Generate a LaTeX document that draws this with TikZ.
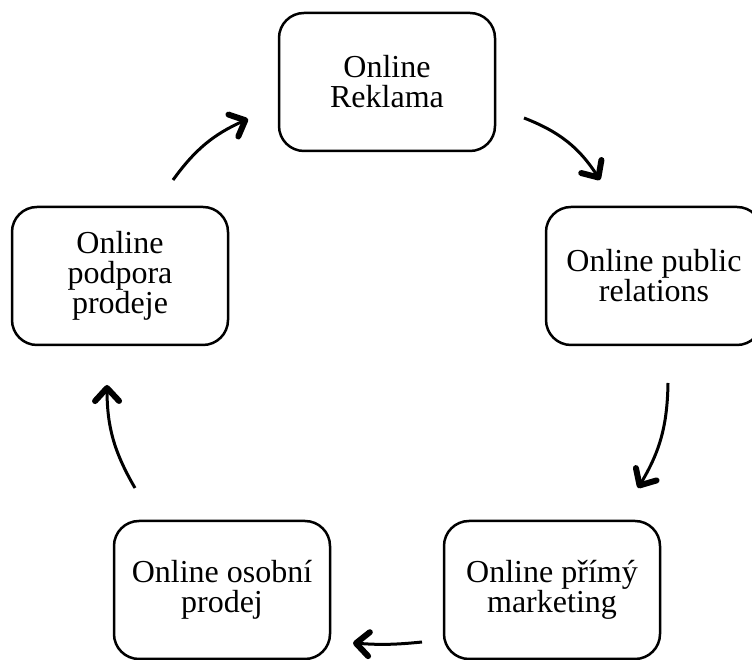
\documentclass[tikz,border=0pt]{standalone}
\usepackage{fontspec}
\setmainfont{Liberation Serif}
\usetikzlibrary{arrows.meta}
\begin{document}
\begin{tikzpicture}[x=1pt,y=1pt,
  box/.style={draw, line width=2.5pt, rounded corners=25pt, minimum width=216pt, minimum height=138pt, align=center, font=\fontsize{32}{30}\selectfont, inner sep=0pt},
  flow/.style={line width=3pt, -{Straight Barb[length=13pt,width=24pt,line width=6pt,round]}}]
\clip (0,0) rectangle (752,660);
\node[box] (b1) at (387,578) {Online\\Reklama};
\node[box] (b2) at (654,384) {Online public\\relations};
\node[box] (b3) at (552,70) {Online přímý\\marketing};
\node[box] (b4) at (222,70) {Online osobní\\prodej};
\node[box] (b5) at (120,384) {Online\\podpora\\prodeje};
\coordinate (a12s) at (524,542);
\coordinate (a12e) at (600,480);
\coordinate (a23s) at (668,277);
\coordinate (a23e) at (638,172);
\coordinate (a34s) at (422,18);
\coordinate (a34e) at (353,17);
\coordinate (a45s) at (135,172);
\coordinate (a45e) at (107,275);
\coordinate (a51s) at (173,480);
\coordinate (a51e) at (248,541);
\draw[flow] (a12s) to[bend left=18] (a12e);
\draw[flow] (a23s) to[bend left=15] (a23e);
\draw[flow] (a34s) to[bend left=5] (a34e);
\draw[flow] (a45s) to[bend left=15] (a45e);
\draw[flow] (a51s) to[bend left=15] (a51e);
\end{tikzpicture}
\end{document}
